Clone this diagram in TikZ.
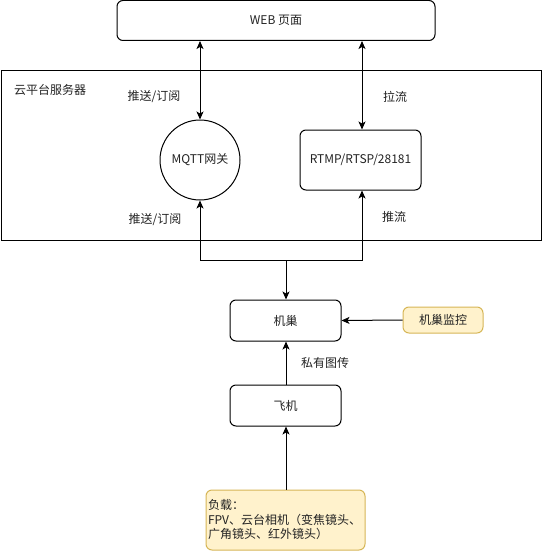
\documentclass[tikz,border=0pt]{standalone}
\usepackage{fontspec}
\setmainfont{Noto Sans CJK SC}
\usetikzlibrary{arrows.meta}
\definecolor{yfill}{HTML}{FFF2CC}
\definecolor{ydraw}{HTML}{D6B656}
\definecolor{txt}{HTML}{222222}
\begin{document}
\setlength{\lineskiplimit}{-20pt}
\begin{tikzpicture}[x=1pt,y=-1pt,line width=1pt,
  font=\fontsize{12}{14.5}\selectfont, text=txt,
  box/.style={draw, rounded corners=6pt, inner sep=0pt},
  ybox/.style={box, fill=yfill, draw=ydraw},
  lbl/.style={inner sep=0pt},
  arr/.style={-{Stealth[length=8pt,width=7pt,inset=2pt]}},
  dbl/.style={{Stealth[length=8pt,width=7pt,inset=2pt]}-{Stealth[length=8pt,width=7pt,inset=2pt]}}]
\useasboundingbox (0,0) rectangle (541,551);
% cloud server frame
\node[draw, inner sep=0pt, minimum width=540pt, minimum height=170pt, anchor=north west] (cloud) at (0.5,70) {};
\node[lbl] (cloudlbl) at (50,90) {云平台服务器};
% web page
\node[box, minimum width=318pt, minimum height=40pt] (web) at (276,20.5) {WEB 页面};
% gateway and stream server
\node[draw, circle, minimum size=80pt, inner sep=0pt] (mqtt) at (200,160) {MQTT网关};
\node[box, minimum width=121pt, minimum height=60pt] (rtmp) at (360.5,160) {RTMP/RTSP/28181};
\coordinate (rt) at (362,0);
% dock, monitor, plane, payload
\node[box, minimum width=111pt, minimum height=41pt] (nest) at (285.5,320.5) {机巢};
\node[ybox, minimum width=80pt, minimum height=26pt] (mon) at (443,320) {机巢监控};
\node[box, minimum width=111pt, minimum height=41pt] (plane) at (285.5,405.5) {飞机};
\node[ybox, minimum width=159pt, minimum height=60pt, align=left, text width=155pt] (load) at (285.5,520) {负载：\\FPV、云台相机（变焦镜头、\\广角镜头、红外镜头）};
% labels
\node[lbl] (l1) at (154,97) {推送/订阅};
\node[lbl] (l2) at (395,97) {拉流};
\node[lbl] (l3) at (155,220) {推送/订阅};
\node[lbl] (l4) at (394,217) {推流};
\node[lbl] (l5) at (325,363) {私有图传};
% connectors
\draw[dbl] (web.south -| mqtt.north) -- (mqtt.north);
\draw[dbl] (web.south -| rt) -- (rtmp.north -| rt);
\coordinate (j) at (286,260);
\draw[arr] (j) -- (nest.north -| j);
\draw[arr] (j) -| (mqtt.south);
\draw[arr] (j) -| (rtmp.south -| rt);
\draw[arr] (mon.west) -- (nest.east);
\draw[arr] (plane.north -| j) -- (nest.south -| j);
\draw[arr] (load.north -| j) -- (plane.south -| j);
\end{tikzpicture}
\end{document}
